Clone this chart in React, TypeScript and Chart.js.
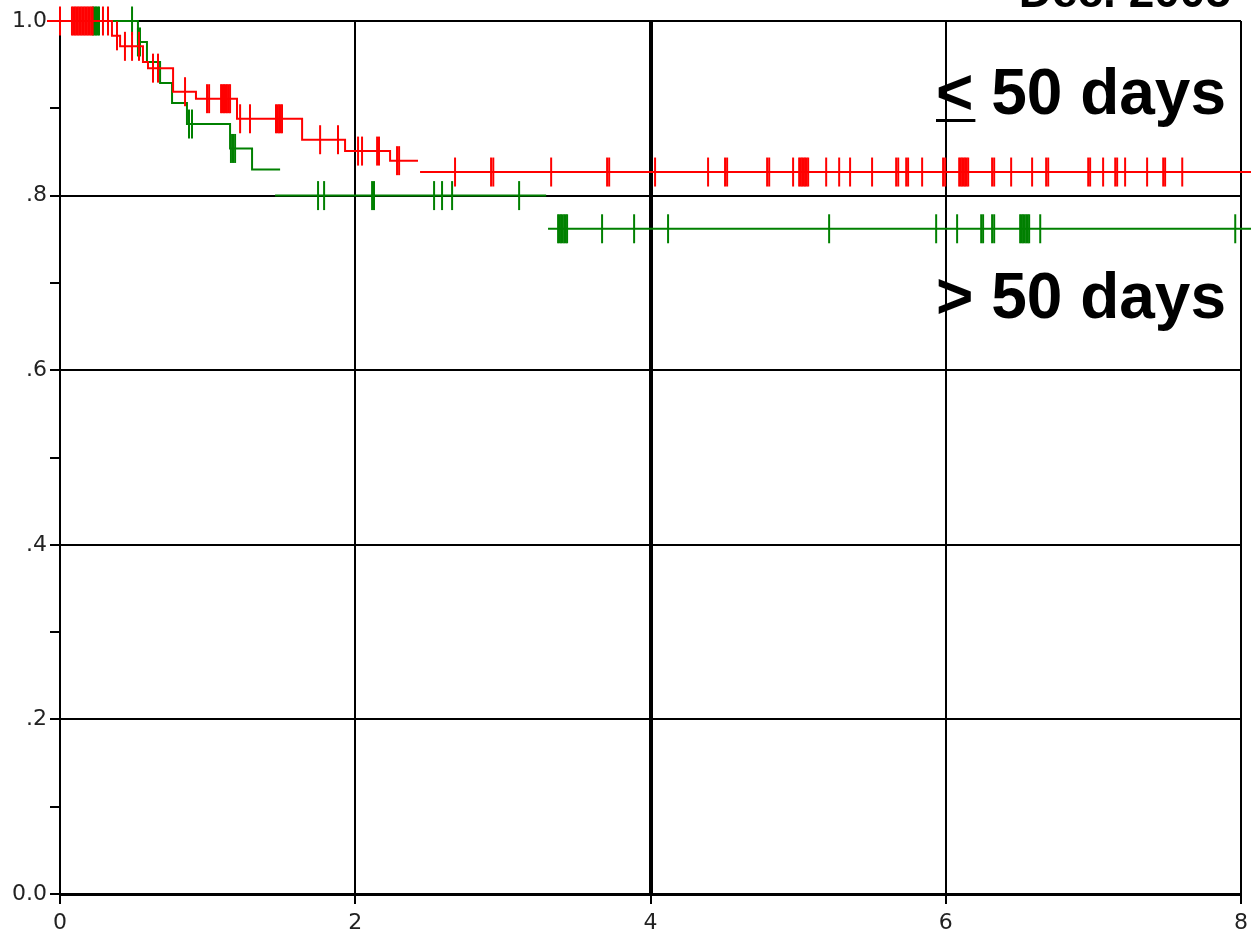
import React, { useEffect, useRef } from "react";
import { Chart, registerables } from "chart.js";

Chart.register(...registerables);

// ---- Data (time in years, survival proportion) ----
const xTickLabels = ["0", "2", "4", "6", "8"];
const yMajorLabels = ["0.0", ".2", ".4", ".6", ".8", "1.0"];

// Red curve (<= 50 days): horizontal step segments
const redSegStart = [-0.088, 0.352, 0.407, 0.562, 0.596, 0.766, 0.921, 1.199, 1.64, 1.931, 2.236, 2.439];
const redSegEnd = [0.352, 0.407, 0.562, 0.596, 0.766, 0.921, 1.199, 1.64, 1.931, 2.236, 2.425, 8.068];
const redSegLevel = [1.0, 0.983, 0.971, 0.953, 0.946, 0.919, 0.911, 0.888, 0.864, 0.851, 0.84, 0.827];

// Red censored observations (times)
const redCensor = [
  0, 0.081, 0.091, 0.101, 0.111, 0.121, 0.131, 0.141, 0.151, 0.161, 0.171, 0.181, 0.191,
  0.201, 0.211, 0.221, 0.291, 0.325,
  0.386, 0.44, 0.488, 0.535, 0.63, 0.664, 0.847, 0.996, 1.01,
  1.091, 1.101, 1.111, 1.121, 1.131, 1.142, 1.152,
  1.22, 1.287, 1.463, 1.474, 1.484, 1.494, 1.504, 1.762, 1.883, 2.019, 2.046, 2.148, 2.161,
  2.283, 2.297, 2.676, 2.92, 2.935, 3.327, 3.706, 3.72, 4.031, 4.39, 4.505, 4.519, 4.79,
  4.804, 4.966, 5.007, 5.017, 5.027, 5.037, 5.047, 5.057, 5.068, 5.19, 5.278, 5.352, 5.501,
  5.664, 5.678, 5.732, 5.745, 5.84, 5.982, 5.996, 6.091, 6.101, 6.111, 6.121, 6.131, 6.141,
  6.152, 6.314, 6.328, 6.443, 6.585, 6.68, 6.694, 6.965, 6.978, 7.066, 7.148, 7.161, 7.215,
  7.364, 7.473, 7.486, 7.602,
];

// Green curve (> 50 days): horizontal step segments
const greenSegStart = [0, 0.528, 0.589, 0.678, 0.759, 0.86, 1.152, 1.301, 1.457, 3.306];
const greenSegEnd = [0.528, 0.589, 0.678, 0.759, 0.86, 1.152, 1.301, 1.491, 3.293, 8.068];
const greenSegLevel = [1.0, 0.976, 0.953, 0.929, 0.906, 0.882, 0.854, 0.83, 0.8, 0.762];

// Green censored observations (times)
const greenCensor = [
  0.224, 0.234, 0.244, 0.254, 0.264, 0.488, 0.528, 0.542, 0.874, 0.894, 1.158, 1.172, 1.186,
  1.748, 1.789, 2.114, 2.127, 2.534, 2.588, 2.656, 3.11,
  3.374, 3.384, 3.394, 3.404, 3.415, 3.425, 3.435,
  3.672, 3.889, 4.119, 5.21, 5.935, 6.077, 6.24, 6.253, 6.314, 6.328,
  6.504, 6.514, 6.524, 6.534, 6.545, 6.555, 6.565, 6.64, 7.961,
];

const headerText = "Dec. 2005";
const label1 = "< 50 days";
const label2 = "> 50 days";

const RED = "#ff0000";
const GREEN = "#008000";

function buildCurve(starts: number[], ends: number[], levels: number[]) {
  const pts: { x: number; y: number | null }[] = [];
  for (let i = 0; i < starts.length; i++) {
    pts.push({ x: starts[i], y: levels[i] });
    pts.push({ x: ends[i], y: levels[i] });
    if (i + 1 < starts.length && starts[i + 1] !== ends[i]) {
      pts.push({ x: ends[i], y: null });
    }
  }
  return pts;
}

function levelAt(t: number, starts: number[], levels: number[]) {
  let lv = levels[0];
  for (let i = 0; i < starts.length; i++) {
    if (starts[i] <= t) lv = levels[i];
  }
  return lv;
}

function buildCensor(times: number[], starts: number[], levels: number[]) {
  return times.map((t) => ({ x: t, y: levelAt(t, starts, levels) }));
}

const annotationPlugin = {
  id: "kmAnnotations",
  afterDraw(chart: any) {
    const ctx = chart.ctx as CanvasRenderingContext2D;
    ctx.save();
    ctx.fillStyle = "#000";
    ctx.textBaseline = "alphabetic";
    ctx.font = 'bold 46px "Liberation Sans", Arial, sans-serif';
    ctx.textAlign = "right";
    ctx.fillText(headerText, 1231, 7);

    ctx.font = 'bold 64px "Liberation Sans", Arial, sans-serif';
    ctx.textAlign = "left";
    ctx.fillText(label1, 936, 114);
    const w = ctx.measureText("<").width;
    ctx.fillRect(936, 119, w + 2, 3);
    ctx.fillText(label2, 936, 318);
    ctx.restore();
  },
};

export default function App() {
  const canvasRef = useRef<HTMLCanvasElement | null>(null);

  useEffect(() => {
    if (!canvasRef.current) return;
    const tickFont = { family: "DejaVu Sans", size: 22 };
    const chart = new Chart(canvasRef.current, {
      type: "line",
      data: {
        datasets: [
          {
            label: "red censored",
            data: buildCensor(redCensor, redSegStart, redSegLevel),
            showLine: false,
            pointStyle: "line",
            pointRotation: 90,
            pointRadius: 14.5,
            pointBorderWidth: 2,
            pointBorderColor: RED,
            pointBackgroundColor: RED,
            borderColor: RED,
            clip: false,
            order: 0,
          } as any,
          {
            label: "≤ 50 days",
            data: buildCurve(redSegStart, redSegEnd, redSegLevel),
            borderColor: RED,
            borderWidth: 2,
            pointRadius: 0,
            spanGaps: false,
            clip: false,
            order: 1,
          } as any,
          {
            label: "green censored",
            data: buildCensor(greenCensor, greenSegStart, greenSegLevel),
            showLine: false,
            pointStyle: "line",
            pointRotation: 90,
            pointRadius: 14.5,
            pointBorderWidth: 2,
            pointBorderColor: GREEN,
            pointBackgroundColor: GREEN,
            borderColor: GREEN,
            clip: false,
            order: 2,
          } as any,
          {
            label: "> 50 days",
            data: buildCurve(greenSegStart, greenSegEnd, greenSegLevel),
            borderColor: GREEN,
            borderWidth: 2,
            pointRadius: 0,
            spanGaps: false,
            clip: false,
            order: 3,
          } as any,
        ],
      },
      options: {
        animation: false,
        responsive: false,
        events: [],
        layout: { autoPadding: false, padding: { top: 21, right: 10, left: 0, bottom: 0 } },
        plugins: {
          legend: { display: false },
          tooltip: { enabled: false },
        },
        scales: {
          x: {
            type: "linear",
            min: 0,
            max: 8,
            afterFit: (s: any) => {
              s.height = 39;
              s.paddingLeft = 0;
              s.paddingRight = 0;
            },
            ticks: {
              stepSize: 2,
              autoSkip: false,
              maxRotation: 0,
              padding: 6,
              color: "#222",
              font: tickFont,
              callback: (v: any) => xTickLabels[Math.round(Number(v) / 2)] ?? "",
            },
            grid: {
              color: "#000",
              lineWidth: (c: any) => (c.tick && c.tick.value === 4 ? 4 : 2),
              tickLength: 10,
              tickWidth: 2,
              tickColor: "#000",
            },
            border: { display: true, color: "#000", width: 3 },
          },
          y: {
            type: "linear",
            min: 0,
            max: 1,
            afterFit: (s: any) => {
              s.width = 60;
              s.paddingTop = 0;
              s.paddingBottom = 0;
            },
            ticks: {
              stepSize: 0.1,
              autoSkip: false,
              padding: 3,
              color: "#222",
              font: tickFont,
              callback: (v: any) => {
                const k = Math.round(Number(v) * 10);
                return k % 2 === 0 ? yMajorLabels[k / 2] : "";
              },
            },
            grid: {
              color: (c: any) =>
                c.tick && Math.round(c.tick.value * 10) % 2 === 0 ? "#000" : "rgba(0,0,0,0)",
              lineWidth: 2,
              tickLength: 10,
              tickWidth: 2,
              tickColor: "#000",
            },
            border: { display: true, color: "#000", width: 2 },
          },
        },
      } as any,
      plugins: [annotationPlugin],
    });
    return () => chart.destroy();
  }, []);

  return (
    <canvas
      ref={canvasRef}
      width={1251}
      height={933}
      style={{ position: "absolute", left: 0, top: 0, width: 1251, height: 933, background: "#fff" }}
    />
  );
}
